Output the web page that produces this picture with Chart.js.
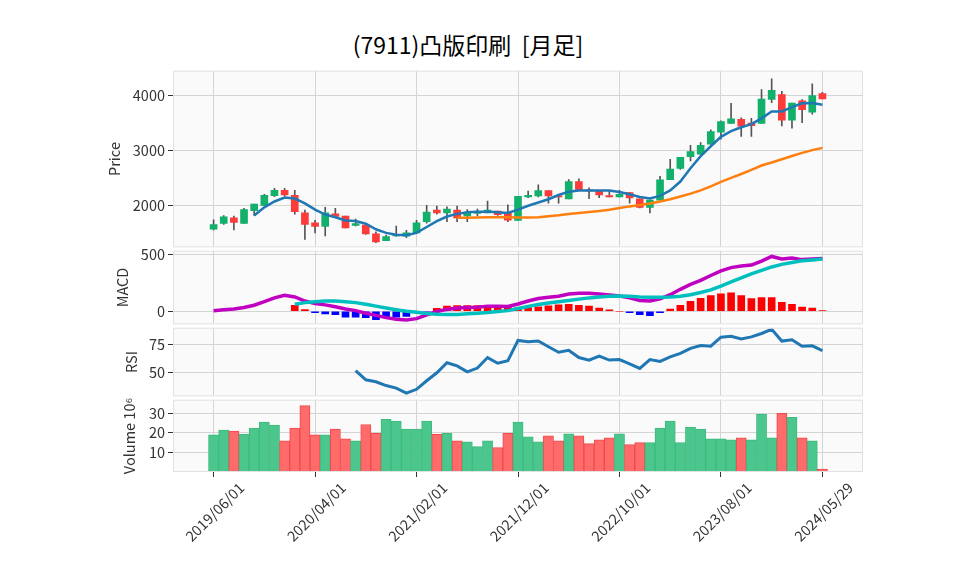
<!DOCTYPE html>
<html>
<head>
<meta charset="utf-8">
<script src="https://cdn.jsdelivr.net/npm/chart.js@4.4.1/dist/chart.umd.min.js"></script>
<style>
  body { margin: 0; background: #fff; width: 958px; height: 575px; position: relative; overflow: hidden; }
  canvas { position: absolute; left: 0; }
  #title { position: absolute; top: 29px; left: 0; width: 936px; text-align: center; white-space: pre;
           font-family: "Noto Sans CJK JP", sans-serif; font-size: 23px; line-height: 30px; color: #000; }
</style>
</head>
<body>
<div id="title">(7911)凸版印刷  [月足]</div>
<canvas id="cPrice"></canvas>
<canvas id="cMacd"></canvas>
<canvas id="cRsi"></canvas>
<canvas id="cVol"></canvas>
<script>
// 月足データ 2019/06 〜 2024/05/29 (61本)
const xTickIndex = [0, 10, 20, 30, 40, 50, 60];
const xTickLabels = ['2019/06/01', '2020/04/01', '2021/02/01', '2021/12/01', '2022/10/01', '2023/08/01', '2024/05/29'];

const opens = [1574,1681,1781,1681,1912,2007,2185,2279,2190,1870,1692,1627,1853,1811,1645,1651,1491,1366,1455,1449,1509,1710,1924,1870,1924,1817,1860,1870,1906,1870,1734,
  2161,2179,2274,2173,2125,2440,2285,2262,2185,2161,2238,2125,1971,2102,2475,2677,2890,2938,3116,3335,3495,3566,3501,3495,3928,4017,3554,3904,3697,4035];
const highs = [1746,1823,1811,1953,2030,2208,2315,2315,2279,1924,1734,1971,1953,1811,1758,1651,1526,1467,1633,1556,1734,2007,1995,1983,1995,1930,1941,2084,1906,2019,2173,
  2268,2380,2274,2208,2475,2487,2327,2279,2279,2279,2238,2125,2102,2535,2843,2878,3098,3145,3377,3543,3857,3596,3584,4106,4302,4076,3863,3928,4213,4058];
const lows = [1560,1663,1562,1681,1823,2007,2167,2179,1847,1390,1509,1455,1805,1598,1633,1479,1331,1366,1443,1420,1509,1686,1847,1710,1710,1710,1817,1870,1823,1710,1734,
  2149,2161,2048,2048,2125,2279,2131,2149,2161,2161,2048,1959,1870,2102,2475,2659,2813,2938,3116,3210,3495,3258,3258,3495,3869,3448,3406,3507,3661,3940];
const closes = [1657,1799,1698,1930,2030,2190,2279,2196,1894,1663,1627,1870,1805,1598,1675,1491,1343,1443,1460,1509,1692,1888,1870,1941,1781,1870,1875,1924,1841,1740,2173,
  2190,2274,2179,2161,2440,2279,2270,2196,2161,2208,2143,1971,2102,2469,2665,2878,2985,3098,3347,3525,3578,3442,3454,3934,4094,3554,3863,3744,3999,3940];

// 移動平均
const ma5 = [null,null,null,null,1823,1971,2078,2149,2131,2042,1930,1841,1793,1734,1722,1675,1574,1509,1473,1467,1509,1615,1722,1805,1853,1882,1894,1894,1882,1870,1930,
  2001,2060,2119,2196,2256,2279,2279,2279,2279,2250,2208,2161,2131,2179,2279,2440,2680,2900,3080,3250,3355,3424,3480,3585,3712,3712,3790,3858,3862,3833];
const ma25 = [null,null,null,null,null,null,null,null,null,null,null,null,null,null,null,null,null,null,null,null,null,null,null,null,1781,1781,1787,1793,1793,1793,1787,
  1787,1793,1811,1829,1853,1870,1888,1906,1930,1959,1989,2013,2042,2078,2119,2167,2220,2279,2351,2434,2505,2576,2653,2730,2784,2843,2902,2960,3010,3050];

// MACD
const macd = [5,13,19,33,53,84,118,141,126,90,67,56,39,19,5,-18,-37,-57,-71,-77,-66,-32,-3,16,28,33,36,45,45,42,64,
  90,112,124,132,152,158,158,152,143,135,118,95,90,110,146,194,237,273,316,358,386,400,409,443,485,463,471,457,463,468];
const signal = [null,null,null,null,null,null,null,null,61,76,84,90,90,84,76,61,45,28,13,-1,-9,-20,-26,-29,-29,-23,-18,-12,-3,5,24,
  42,59,73,84,95,107,118,126,132,135,132,126,124,124,126,132,146,166,189,223,259,296,330,361,392,415,432,446,454,463];
const hist = [null,null,null,null,null,null,null,null,53,14,-14,-25,-31,-52,-52,-57,-74,-57,-52,-46,-11,-5,25,45,50,50,50,45,40,35,30,
  33,39,47,56,61,53,45,28,13,0,-14,-31,-40,-14,19,53,87,115,138,155,163,138,112,121,121,78,61,36,28,6];

// RSI
const rsi = [null,null,null,null,null,null,null,null,null,null,null,null,null,null,51.5,43.1,41.3,37.8,35.5,30.9,34.4,42.2,49.5,58.7,55.8,50.3,53.8,63.4,58.2,60.5,79.1,
  77.9,78.5,73.3,68.3,70.1,63.4,61.1,64.8,61.1,61.6,57.6,53.5,61.6,59.9,64.0,67.2,71.8,74.4,73.8,82.0,82.8,80.5,82.3,85.4,89.2,78.5,79.6,73.8,74.1,69.8];

// 出来高 (x10^6)
const volume = [19.0,21.5,21.0,19.3,22.5,25.5,24.0,16.0,22.5,34.0,19.0,19.0,22.0,17.0,16.0,24.3,19.8,27.0,26.0,22.0,22.0,26.0,19.3,19.8,16.0,15.5,13.0,16.0,12.5,19.8,25.5,
  18.0,15.5,18.5,16.0,19.5,18.5,14.5,16.5,17.5,19.5,14.0,15.0,15.0,22.5,26.0,15.0,23.0,22.0,17.0,17.0,16.5,17.5,16.5,29.5,17.5,30.0,28.0,17.5,16.0,1.5];

const priceTicks = [2000, 3000, 4000];
const macdTicks = [0, 500];
const rsiTicks = [50, 75];
const volTicks = [10, 20, 30];

Chart.defaults.font.family = '"Noto Sans CJK JP", sans-serif';
Chart.defaults.font.size = 14.5;
Chart.defaults.color = '#333';

// プロット領域の背景と枠
const plotBg = {
  id: 'plotBg',
  beforeDraw(chart) {
    const a = chart.chartArea, ctx = chart.ctx;
    ctx.save();
    ctx.fillStyle = '#fafafa';
    ctx.fillRect(a.left, a.top, a.right - a.left, a.bottom - a.top);
    ctx.restore();
  },
  afterDraw(chart) {
    const a = chart.chartArea, ctx = chart.ctx;
    ctx.save();
    ctx.strokeStyle = '#e2e2e2';
    ctx.lineWidth = 1;
    ctx.strokeRect(a.left + 0.5, a.top + 0.5, a.right - a.left - 1, a.bottom - a.top - 1);
    ctx.restore();
  }
};

const idx = opens.map((_, i) => i);
const pts = (arr) => arr.map((v, i) => ({ x: i, y: v }));

function xScale(bottom) {
  return {
    type: 'linear', min: -4, max: 64, offset: false,
    afterBuildTicks: (s) => { s.ticks = xTickIndex.map(v => ({ value: v })); },
    afterFit: (s) => { s.height = bottom ? 103 : 0; },
    grid: { color: '#d4d4d4', tickColor: '#333', tickLength: 5, drawTicks: bottom, offset: false },
    border: { display: false },
    ticks: bottom
      ? { autoSkip: false, maxRotation: 45, minRotation: 45, padding: 2, labelOffset: 28, color: '#333',
          callback: (v, i) => xTickLabels[i] }
      : { display: false }
  };
}

function yScale(title, min, max, ticks, width) {
  return {
    type: 'linear', min: min, max: max,
    afterBuildTicks: (s) => { s.ticks = ticks.map(v => ({ value: v })); },
    afterFit: (s) => { s.width = width; },
    grid: { color: '#d4d4d4', tickColor: '#333', tickLength: 5 },
    border: { display: false },
    ticks: { padding: 3, color: '#333', callback: (v) => String(v) },
    title: { display: true, text: title, color: '#333', padding: { top: 4, bottom: 0 } }
  };
}

function panel(id, top, height, left, y, datasets, bottom) {
  const cv = document.getElementById(id);
  cv.width = 958; cv.height = height;
  cv.style.top = top + 'px';
  return new Chart(cv, {
    type: 'bar',
    data: { datasets: datasets },
    options: {
      responsive: false, animation: false, devicePixelRatio: 1,
      layout: { padding: { left: left, right: 95, top: 10, bottom: bottom ? 0 : 10 } },
      plugins: { legend: { display: false }, tooltip: { enabled: false } },
      scales: { x: xScale(bottom), y: y }
    },
    plugins: [plotBg]
  });
}

const upC = '#12b06b', dnC = '#fc3b3b';
const candleColors = idx.map(i => closes[i] >= opens[i] ? upC : dnC);
const volFill = idx.map(i => (i === 0 || closes[i] >= closes[i - 1]) ? '#4bc68d' : '#ff6b6b');
const volEdge = idx.map(i => (i === 0 || closes[i] >= closes[i - 1]) ? '#3dba7e' : '#f04a4a');

// 価格パネル
panel('cPrice', 59, 200, 102, yScale('Price', 1247, 4450, priceTicks, 71), [
  { type: 'bar', data: idx.map(i => ({ x: i, y: [lows[i], highs[i]] })), backgroundColor: '#555',
    barThickness: 1, grouped: false, order: 4 },
  { type: 'bar', data: idx.map(i => ({ x: i, y: [opens[i], closes[i]] })), backgroundColor: candleColors,
    barThickness: 7, minBarLength: 1, grouped: false, order: 3 },
  { type: 'line', data: pts(ma25), borderColor: '#ff7f0e', borderWidth: 2.5, pointRadius: 0, order: 2 },
  { type: 'line', data: pts(ma5), borderColor: '#1f77b4', borderWidth: 2.5, pointRadius: 0, order: 1 }
], false);

// MACDパネル
panel('cMacd', 239, 97, 110, yScale('MACD', -116, 536, macdTicks, 63), [
  { type: 'bar', data: pts(hist), backgroundColor: hist.map(v => v >= 0 ? '#ff0000' : '#0000ff'),
    barThickness: 7, grouped: false, order: 3 },
  { type: 'line', data: pts(macd), borderColor: '#c000c0', borderWidth: 3.5, pointRadius: 0, order: 2 },
  { type: 'line', data: pts(signal), borderColor: '#00bfbf', borderWidth: 3.5, pointRadius: 0, order: 1 }
], false);

// RSIパネル
panel('cRsi', 316, 92, 119, yScale('RSI', 28, 90.7, rsiTicks, 54), [
  { type: 'line', data: pts(rsi), borderColor: '#1f77b4', borderWidth: 3, pointRadius: 0 }
], false);

// 出来高パネル
panel('cVol', 388, 187, 117, yScale('Volume 10⁶', 0, 37, volTicks, 56), [
  { type: 'bar', data: pts(volume), backgroundColor: volFill, borderColor: volEdge, borderWidth: 1,
    borderSkipped: false, barPercentage: 1, categoryPercentage: 1, grouped: false }
], true);
</script>
</body>
</html>
